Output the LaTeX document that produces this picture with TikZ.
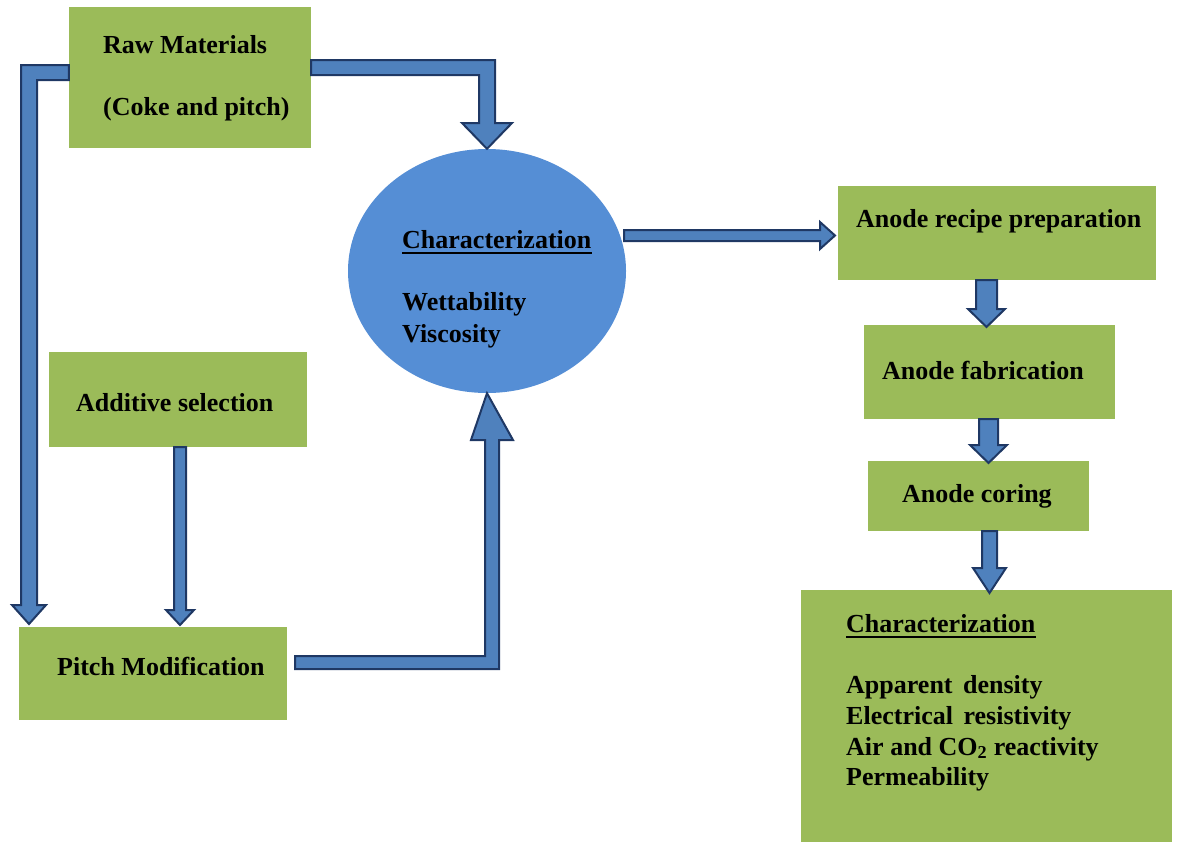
\documentclass[tikz,border=0pt]{standalone}
\usepackage{fontspec}
\setmainfont{Liberation Serif}
\usetikzlibrary{calc,shapes.geometric}
\definecolor{boxgreen}{HTML}{9BBB59}
\definecolor{ellblue}{HTML}{558ED5}
\definecolor{arrfill}{HTML}{4F81BD}
\definecolor{arrline}{HTML}{1F3864}
\begin{document}
\begin{tikzpicture}[x=1pt,y=-1pt,
  gbox/.style={fill=boxgreen, draw=none, rectangle, inner sep=0pt},
  lbl/.style={anchor=base west, inner sep=0pt, font=\fontsize{26}{31}\selectfont\bfseries},
  barrow/.style={fill=arrfill, draw=arrline, line width=2pt, line join=miter}]
\useasboundingbox (0,0) rectangle (1178,841);
% boxes
\node[gbox, minimum width=242, minimum height=141] (raw) at (190,77.5) {};
\node[gbox, minimum width=258, minimum height=95] (add) at (178,399.5) {};
\node[gbox, minimum width=268, minimum height=93] (pitch) at (153,673.5) {};
\node[gbox, minimum width=318, minimum height=94] (recipe) at (997,233) {};
\node[gbox, minimum width=251, minimum height=94] (fab) at (989.5,372) {};
\node[gbox, minimum width=221, minimum height=70] (coring) at (978.5,496) {};
\node[gbox, minimum width=371, minimum height=262] (charb) at (986.5,721) {};
\node[ellipse, fill=ellblue, draw=none, inner sep=0pt, minimum width=278, minimum height=244] (el) at (487,271) {};
% arrows
\draw[barrow] (raw.east |- 0,60) -- (495,60) -- (495,123) -- (512,123) -- (el.north) -- (462,123) -- (479,123) -- (479,75) -- (raw.east |- 0,75) -- cycle;
\draw[barrow] (raw.west |- 0,65) -- (21,65) -- (21,605) -- (12,605) -- (29,624) -- (46,605) -- (37,605) -- (37,80) -- (raw.west |- 0,80) -- cycle;
\draw[barrow] (add.south -| 174,0) -- (174,610) -- (166,610) -- (180,625) -- (194,610) -- (186,610) -- (add.south -| 186,0) -- cycle;
\draw[barrow] (295,656) -- (485,656) -- (485,440) -- (471,440) -- (el.south) -- (513,440) -- (499,440) -- (499,669) -- (295,669) -- cycle;
\draw[barrow] (624,230) -- (820,230) -- (820,222) -- (835,235.5) -- (820,249) -- (820,241) -- (624,241) -- cycle;
\draw[barrow] (recipe.south -| 976,0) -- (976,309) -- (968,309) -- (986.5,327) -- (1005,309) -- (997,309) -- (recipe.south -| 997,0) -- cycle;
\draw[barrow] (fab.south -| 979,0) -- (979,445) -- (970,445) -- (988.5,463) -- (1007,445) -- (998,445) -- (fab.south -| 998,0) -- cycle;
\draw[barrow] (coring.south -| 982,0) -- (982,568) -- (973,568) -- (989.5,593) -- (1006,568) -- (997,568) -- (coring.south -| 997,0) -- cycle;
% texts
\node[lbl] (rawt1) at (103,53) {Raw Materials};
\node[lbl] (rawt2) at (103,115) {(Coke and pitch)};
\node[lbl] (addt) at (76,411) {Additive selection};
\node[lbl] (pitcht) at (57,675) {Pitch Modification};
\node[lbl] (recipet) at (856,227) {Anode recipe preparation};
\node[lbl] (fabt) at (882,379) {Anode fabrication};
\node[lbl] (coringt) at (902,502) {Anode coring};
\node[lbl] (elt1) at (402,248) {Characterization};
\draw[line width=1.6pt] ([yshift=-5pt]elt1.base west) -- ([yshift=-5pt]elt1.base east);
\node[lbl] (elt2) at (402,310) {Wettability};
\node[lbl] (elt3) at (402,342) {Viscosity};
\node[lbl] (cht1) at (846,632) {Characterization};
\draw[line width=1.6pt] ([yshift=-5pt]cht1.base west) -- ([yshift=-5pt]cht1.base east);
\node[lbl] (cht2) at (846,693) {Apparent\hspace{4pt} density};
\node[lbl] (cht3) at (846,724) {Electrical\hspace{4pt} resistivity};
\node[lbl] (cht4) at (846,755) {Air and CO\textsubscript{2} reactivity};
\node[lbl] (cht5) at (846,785) {Permeability};
\end{tikzpicture}
\end{document}
